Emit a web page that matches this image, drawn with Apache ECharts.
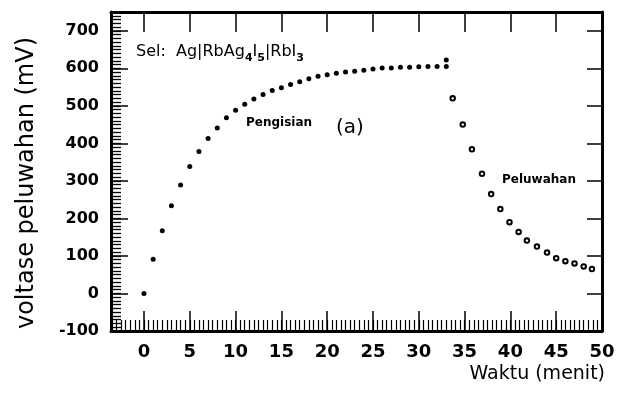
<!DOCTYPE html>
<html>
<head>
<meta charset="utf-8">
<script src="https://cdn.jsdelivr.net/npm/echarts@6/dist/echarts.min.js"></script>
<style>
  html, body { margin: 0; padding: 0; background: #fff; }
  #chart { width: 626px; height: 398px; }
</style>
</head>
<body>
<div id="chart"></div>
<script>
// data
const chargeTime = [0, 1, 2, 3, 4, 5, 6, 7, 8, 9, 10, 11, 12, 13, 14, 15, 16, 17, 18, 19, 20, 21, 22, 23, 24, 25, 26, 27, 28, 29, 30, 31, 32, 33, 33];
const chargeVoltage = [0, 91, 167, 234, 289, 338, 378, 413, 441, 468, 488, 504, 518, 530, 541, 548, 557, 564, 572, 579, 583, 587, 590, 592, 595, 598, 601, 601, 603, 603, 604, 605, 605, 605, 622];
const dischargeTime = [33.7, 34.8, 35.8, 36.9, 37.9, 38.9, 39.9, 40.9, 41.8, 42.9, 44, 45, 46, 47, 48, 48.9];
const dischargeVoltage = [520, 450, 384, 319, 265, 225, 190, 164, 141, 125, 109, 94, 86, 80, 72, 65];

const xTicks = [0, 5, 10, 15, 20, 25, 30, 35, 40, 45, 50];
const yTicks = [-100, 0, 100, 200, 300, 400, 500, 600, 700];

const xMin = -3.6, xMax = 50, yMin = -100, yMax = 750;

// minor ticks
const xMinor = [];
for (let v = -3.5; v <= 50; v += 0.5) xMinor.push(v);
const yMinor = [];
for (let v = -100; v <= 750; v += 10) yMinor.push(v);

const pair = (xs, ys) => xs.map((x, i) => [x, ys[i]]);

const chart = echarts.init(document.getElementById("chart"));

const black = "#000";
const labelFont = { fontFamily: "DejaVu Sans", fontWeight: "bold", color: black };
const frameLine = { show: true, onZero: false, lineStyle: { color: black, width: 3 } };
const noLine = { show: false, onZero: false };

const option = {
  animation: false,
  grid: { left: 111, right: 24, top: 12, bottom: 67, containLabel: false, outerBoundsMode: "none" },
  xAxis: [
    // bottom axis, major ticks + labels
    {
      type: "value", min: xMin, max: xMax, position: "bottom",
      axisLine: frameLine,
      axisTick: { inside: true, length: 20, customValues: xTicks, lineStyle: { color: black, width: 1.5 } },
      axisLabel: { customValues: xTicks, margin: 12, fontSize: 18, ...labelFont },
      splitLine: { show: false },
    },
    // bottom axis, minor ticks
    {
      type: "value", min: xMin, max: xMax, position: "bottom",
      axisLine: noLine,
      axisTick: { inside: true, length: 11, customValues: xMinor, lineStyle: { color: black, width: 1.2 } },
      axisLabel: { show: false },
      splitLine: { show: false },
    },
    // top frame
    {
      type: "value", min: xMin, max: xMax, position: "top",
      axisLine: frameLine,
      axisTick: { inside: true, length: 20, customValues: xTicks, lineStyle: { color: black, width: 1.5 } },
      axisLabel: { show: false },
      splitLine: { show: false },
    },
  ],
  yAxis: [
    {
      type: "value", min: yMin, max: yMax, position: "left",
      axisLine: frameLine,
      axisTick: { show: true, inside: true, length: 17, customValues: yTicks, lineStyle: { color: black, width: 1.5 } },
      axisLabel: { customValues: yTicks, margin: 12, fontSize: 16, ...labelFont },
      splitLine: { show: false },
    },
    {
      type: "value", min: yMin, max: yMax, position: "left",
      axisLine: noLine,
      axisTick: { show: true, inside: true, length: 10, customValues: yMinor, lineStyle: { color: black, width: 1.3 } },
      axisLabel: { show: false },
      splitLine: { show: false },
    },
    {
      type: "value", min: yMin, max: yMax, position: "right",
      axisLine: frameLine,
      axisTick: { show: true, inside: true, length: 15, customValues: yTicks, lineStyle: { color: black, width: 1.5 } },
      axisLabel: { show: false },
      splitLine: { show: false },
    },
  ],
  series: [
    {
      name: "Pengisian",
      type: "scatter",
      xAxisIndex: 0, yAxisIndex: 0,
      symbol: "circle", symbolSize: 5,
      itemStyle: { color: black, opacity: 1 },
      data: pair(chargeTime, chargeVoltage),
    },
    {
      name: "Peluwahan",
      type: "scatter",
      xAxisIndex: 0, yAxisIndex: 0,
      symbol: "emptyCircle", symbolSize: 4.5,
      itemStyle: { color: black, borderColor: black, borderWidth: 1.2, opacity: 1 },
      data: pair(dischargeTime, dischargeVoltage),
    },
  ],
  graphic: [
    {
      type: "text", x: 27, y: 183, rotation: Math.PI / 2,
      style: {
        text: "voltase peluwahan (mV)", fill: black,
        font: "24px 'DejaVu Sans'", align: "center", verticalAlign: "middle",
      },
    },
    {
      type: "text", x: 605, y: 374,
      style: {
        text: "Waktu (menit)", fill: black,
        font: "19px 'DejaVu Sans'", align: "right", verticalAlign: "middle",
      },
    },
    {
      type: "text", x: 136, y: 52,
      style: {
        text: "Sel:  Ag|RbAg{sub|4}I{sub|5}|RbI{sub|3}", fill: black,
        font: "16px 'DejaVu Sans'", verticalAlign: "middle",
        rich: { sub: { fontSize: 11, fontFamily: "DejaVu Sans", fontWeight: "bold", padding: [12, 0, 0, 0] } },
      },
    },
    {
      type: "text", x: 246, y: 123,
      style: { text: "Pengisian", fill: black, font: "bold 12px 'DejaVu Sans'", verticalAlign: "middle" },
    },
    {
      type: "text", x: 336, y: 128,
      style: { text: "(a)", fill: black, font: "20px 'DejaVu Sans'", verticalAlign: "middle" },
    },
    {
      type: "text", x: 502, y: 180,
      style: { text: "Peluwahan", fill: black, font: "bold 12px 'DejaVu Sans'", verticalAlign: "middle" },
    },
  ],
};

chart.setOption(option);
</script>
</body>
</html>
